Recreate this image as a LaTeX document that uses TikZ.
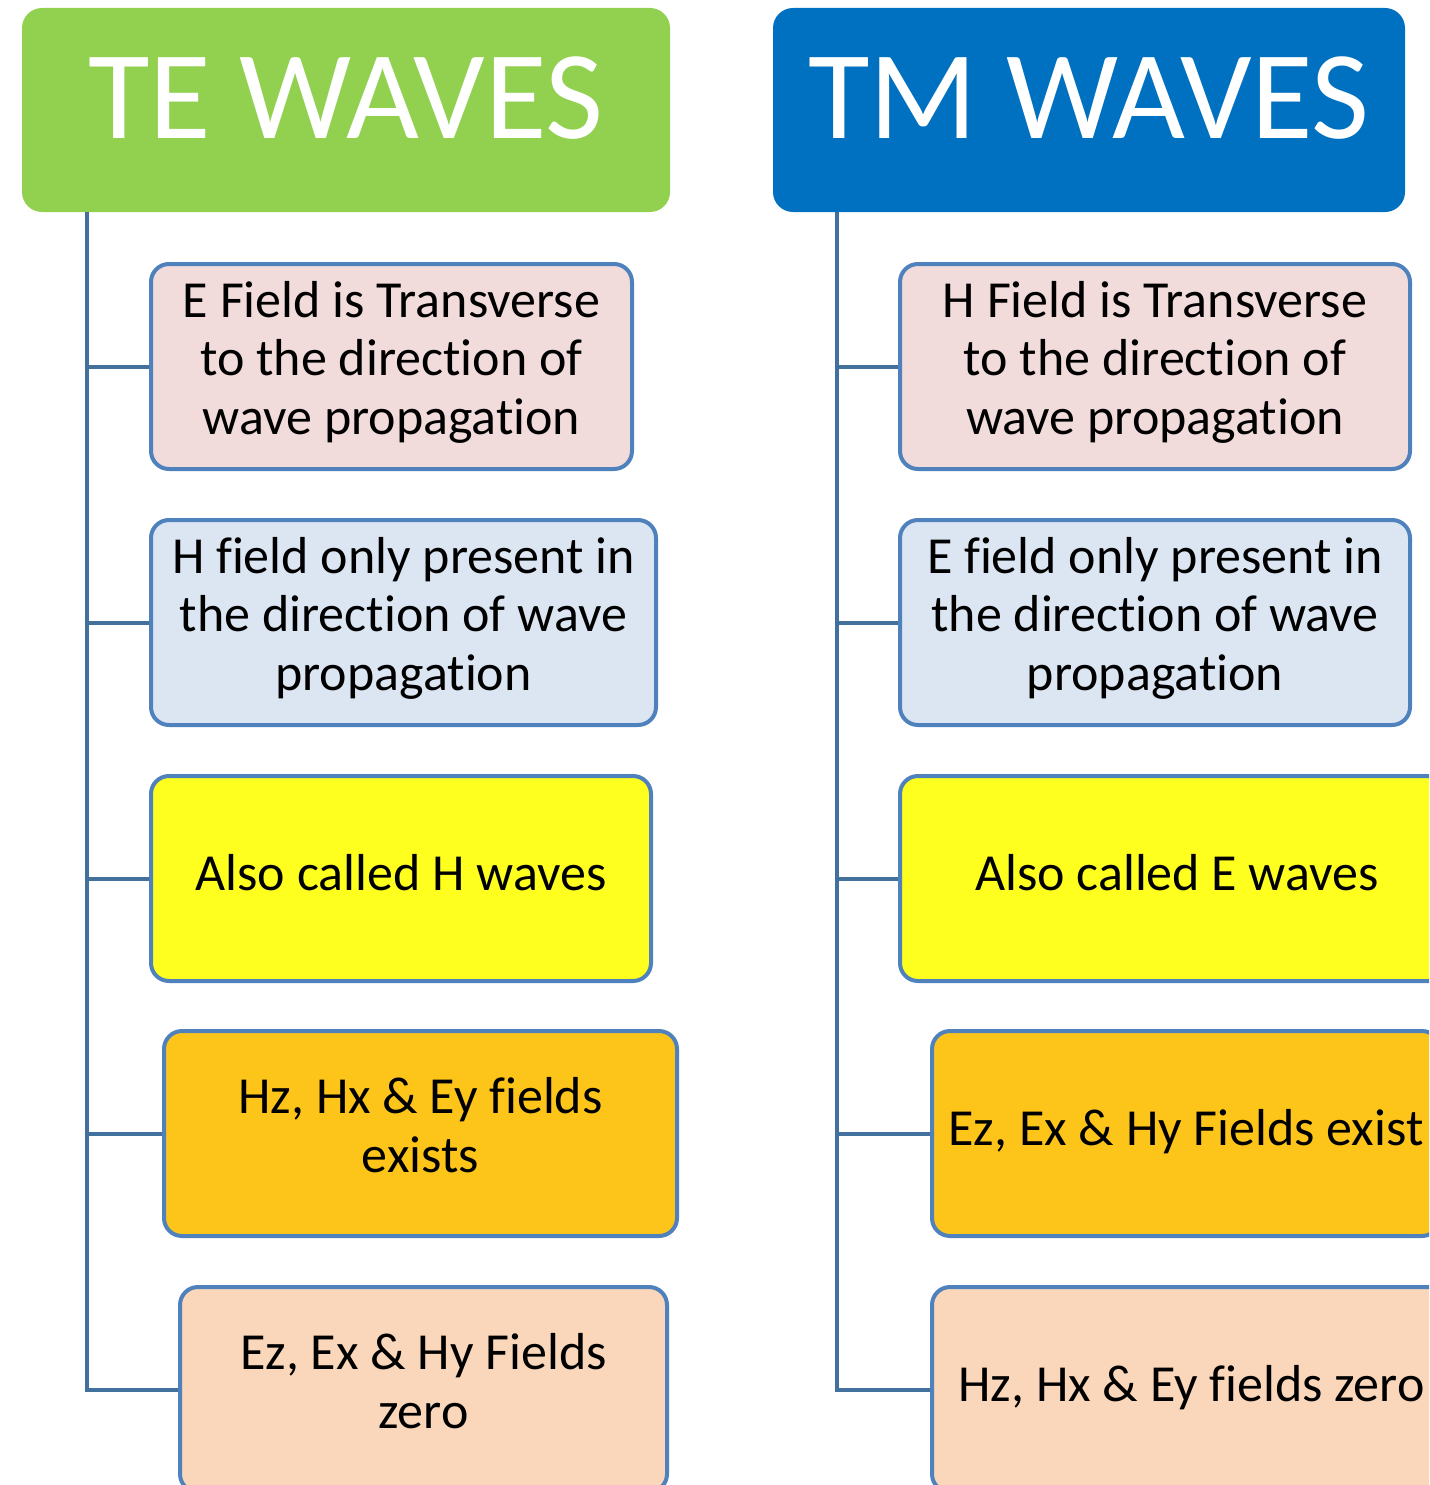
\documentclass[tikz,border=0pt]{standalone}
\usepackage{fontspec}
\setmainfont{Carlito}[Ligatures=NoCommon]
\definecolor{tegreen}{RGB}{146,208,80}
\definecolor{tmblue}{RGB}{0,112,192}
\definecolor{boxline}{RGB}{79,129,189}
\definecolor{trunk}{RGB}{65,113,156}
\definecolor{rosefill}{RGB}{242,220,219}
\definecolor{skyfill}{RGB}{220,230,242}
\definecolor{lemonfill}{RGB}{255,255,31}
\definecolor{amberfill}{RGB}{253,197,26}
\definecolor{peachfill}{RGB}{250,215,186}

\begin{document}
\begin{tikzpicture}[
    x=1pt, y=-1pt,
    head/.style={rounded corners=20pt, minimum height=204pt, inner sep=0pt,
      text=white, font=\fontsize{126}{130}\selectfont, text depth=25pt},
    item/.style={draw=boxline, line width=4pt, rounded corners=18pt,
      minimum height=205pt, inner sep=0pt, align=center,
      font=\fontsize{52}{58.5}\selectfont,
      execute at begin node=\strut, execute at end node=\strut},
    link/.style={draw=trunk, line width=4pt},
  ]

  \clip (0,0) rectangle (1429,1485);

  % TE column
  \node[head, fill=tegreen, minimum width=648pt] (te) at (346,110) {TE WAVES\hspace{12pt}};
  \coordinate (tetop) at (87,212);
  \node[item, fill=rosefill,  minimum width=481pt] (te1) at (391.5,366.5)
    {E Field is Transverse\\to the direction of\\wave propagation};
  \node[item, fill=skyfill,   minimum width=505pt] (te2) at (403.5,622.5)
    {H field only present in\\the direction of wave\\propagation};
  \node[item, fill=lemonfill, minimum width=500pt] (te3) at (401,878.5)
    {Also called H waves};
  \node[item, fill=amberfill, minimum width=513pt] (te4) at (420.5,1133.5)
    {Hz, Hx \& Ey fields\\exists};
  \node[item, fill=peachfill, minimum width=487pt] (te5) at (423.5,1389.5)
    {Ez, Ex \& Hy Fields\\zero};

  \draw[link] (tetop) |- (te5.west);
  \draw[link] (te1.west -| tetop) -- (te1.west);
  \draw[link] (te2.west -| tetop) -- (te2.west);
  \draw[link] (te3.west -| tetop) -- (te3.west);
  \draw[link] (te4.west -| tetop) -- (te4.west);

  % TM column
  \node[head, fill=tmblue, minimum width=632pt] (tm) at (1089,110) {TM WAVES\hspace{12pt}};
  \coordinate (tmtop) at (837,212);
  \node[item, fill=rosefill,  minimum width=510pt] (tm1) at (1155,366.5)
    {H Field is Transverse\\to the direction of\\wave propagation};
  \node[item, fill=skyfill,   minimum width=510pt] (tm2) at (1155,622.5)
    {E field only present in\\the direction of wave\\propagation};
  \node[item, fill=lemonfill, minimum width=554pt] (tm3) at (1177,878.5)
    {Also called E waves};
  \node[item, fill=amberfill, minimum width=508pt] (tm4) at (1186,1133.5)
    {Ez, Ex \& Hy Fields exist};
  \node[item, fill=peachfill, minimum width=519pt] (tm5) at (1191.5,1389.5)
    {Hz, Hx \& Ey fields zero};

  \draw[link] (tmtop) |- (tm5.west);
  \draw[link] (tm1.west -| tmtop) -- (tm1.west);
  \draw[link] (tm2.west -| tmtop) -- (tm2.west);
  \draw[link] (tm3.west -| tmtop) -- (tm3.west);
  \draw[link] (tm4.west -| tmtop) -- (tm4.west);

\end{tikzpicture}
\end{document}
